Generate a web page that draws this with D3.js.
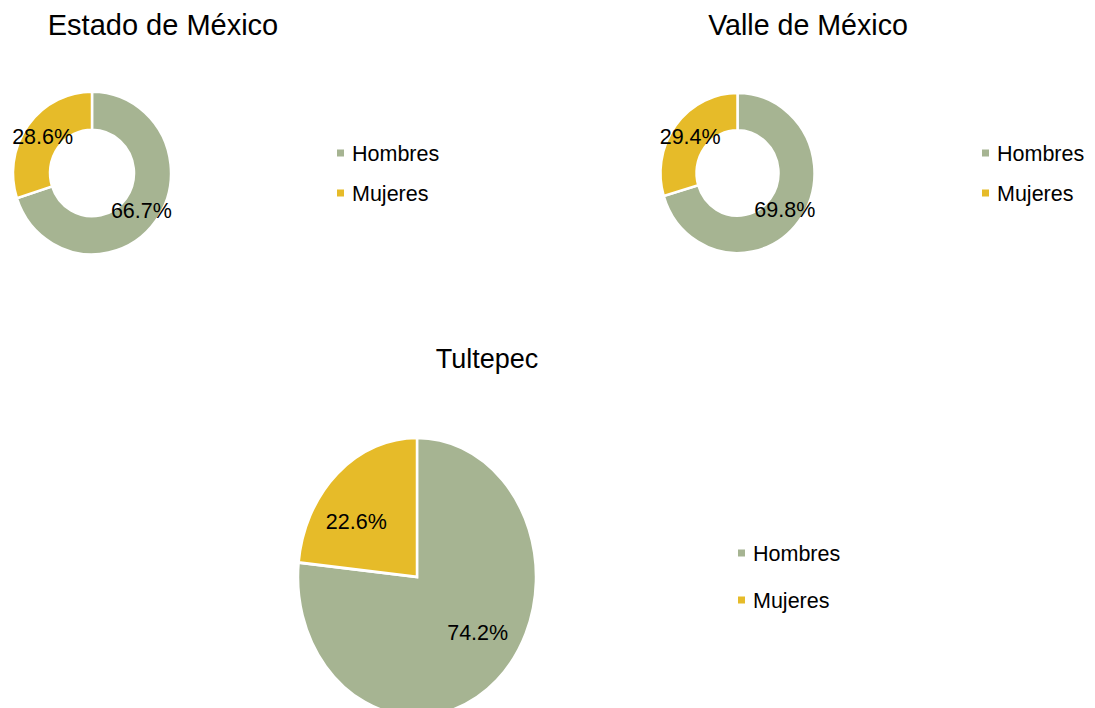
<!DOCTYPE html>
<html>
<head>
<meta charset="utf-8">
<script src="https://cdn.jsdelivr.net/npm/d3@7"></script>
<style>
  body { margin: 0; background: #fff; }
  svg { display: block; font-family: "Liberation Sans", Arial, sans-serif; }
</style>
</head>
<body>
<svg></svg>
<script>
let categories = ["Hombres", "Mujeres"];
let titles = ["Estado de México", "Valle de México", "Tultepec"];
let estadoValues = [66.7, 28.6];
let valleValues = [69.8, 29.4];
let tultepecValues = [74.2, 22.6];

let colors = ["#A6B492", "#E6BB29"];

let width = 1095;
let height = 708;

let svg = d3.select("svg").attr("width", width).attr("height", height);

// layout of each panel (chart center, radii, title, legend)
let panels = [
  { values: estadoValues, cx: 92, cy: 173, r: 79, sy: 1.03, inner: 42, labelR: 61, rot: 0,
    titleX: 163, titleY: 35, titleSize: 29, legX: 337, legY: [153, 193] },
  { values: valleValues, cx: 737.5, cy: 173, r: 77, sy: 1.04, inner: 41, labelR: 59, rot: 0,
    titleX: 808, titleY: 35, titleSize: 28.6, legX: 982, legY: [153, 193] },
  { values: tultepecValues, cx: 417, cy: 577, r: 119, sy: 1.17, inner: 0, labelR: 77, rot: -10,
    titleX: 487, titleY: 368, titleSize: 27, legX: 738, legY: [553, 600] }
];

let color = d3.scaleOrdinal().domain(categories).range(colors);

let pie = d3.pie().sort(null).value((d) => d.value);

let drawPanel = (p, i) => {
  let data = categories.map((c, k) => ({ category: c, value: p.values[k] }));
  let arcs = pie(data);

  let arc = d3.arc().innerRadius(p.inner).outerRadius(p.r);

  let labelPos = (d) => {
    let a = (d.startAngle + d.endAngle) / 2 + (p.rot * Math.PI) / 180;
    let pt = d3.pointRadial(a, p.labelR);
    return [pt[0], pt[1] * p.sy];
  };

  let g = svg
    .append("g")
    .attr("transform", "translate(" + p.cx + "," + p.cy + ")");

  g.append("g")
    .attr("transform", "scale(1," + p.sy + ")")
    .selectAll("path")
    .data(arcs)
    .enter()
    .append("path")
    .attr("d", arc)
    .attr("fill", (d) => color(d.data.category))
    .attr("stroke", "#fff")
    .attr("stroke-width", 2.5)
    .attr("stroke-linejoin", "miter");

  g.selectAll("text.lbl")
    .data(arcs)
    .enter()
    .append("text")
    .attr("class", "lbl")
    .attr("x", (d) => labelPos(d)[0])
    .attr("y", (d) => labelPos(d)[1])
    .attr("dy", "0.36em")
    .attr("text-anchor", "middle")
    .attr("font-size", 21.5)
    .attr("fill", "#000")
    .text((d) => d.data.value.toFixed(1) + "%");

  svg
    .append("text")
    .attr("x", p.titleX)
    .attr("y", p.titleY)
    .attr("text-anchor", "middle")
    .attr("font-size", p.titleSize)
    .attr("fill", "#000")
    .text(titles[i]);

  let legend = svg
    .selectAll("g.leg" + i)
    .data(categories)
    .enter()
    .append("g")
    .attr("class", "leg" + i)
    .attr("transform", (d, k) => "translate(" + p.legX + "," + p.legY[k] + ")");

  legend
    .append("rect")
    .attr("x", 0)
    .attr("y", -3.5)
    .attr("width", 7)
    .attr("height", 7)
    .attr("fill", (d) => color(d));

  legend
    .append("text")
    .attr("x", 15)
    .attr("dy", "0.36em")
    .attr("font-size", 21.5)
    .attr("fill", "#000")
    .text((d) => d);
};

panels.forEach(drawPanel);
</script>
</body>
</html>
